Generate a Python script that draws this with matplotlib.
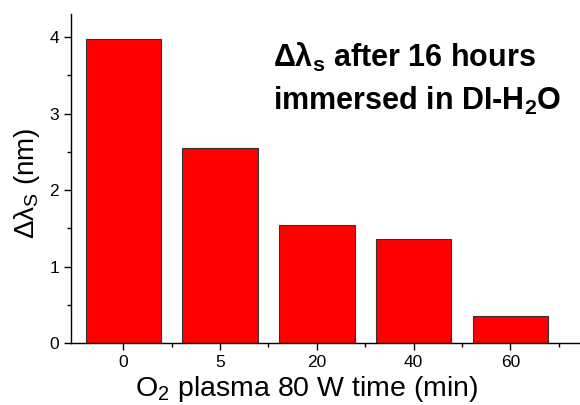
import matplotlib
matplotlib.use("Agg")
import matplotlib.pyplot as plt
from matplotlib.ticker import MultipleLocator

plt.rcParams["font.family"] = ["Liberation Sans", "DejaVu Sans"]
plt.rcParams["mathtext.fontset"] = "custom"
plt.rcParams["mathtext.rm"] = "Liberation Sans"
plt.rcParams["mathtext.bf"] = "Liberation Sans:bold"

times = ["0", "5", "20", "40", "60"]
shift = [3.98, 2.55, 1.54, 1.36, 0.36]

fig = plt.figure(figsize=(5.8, 4.05), dpi=100)
ax = fig.add_axes([0.1224, 0.153, 0.8776, 0.812])

pos = range(len(times))
ax.bar(pos, shift, width=0.78, color="#ff0000", edgecolor="#333333", linewidth=0.8)

ax.set_xlim(-0.54, 4.72)
ax.set_ylim(0, 4.3)
ax.set_xticks(list(pos))
ax.set_xticklabels(times)
ax.set_xticks([p + 0.5 for p in range(len(times))], minor=True)
ax.yaxis.set_major_locator(MultipleLocator(1))
ax.yaxis.set_minor_locator(MultipleLocator(0.5))
ax.tick_params(which="major", direction="out", length=5, width=1, labelsize=12.5)
ax.tick_params(which="minor", direction="out", length=3, width=1)

for s in ["top", "right"]:
    ax.spines[s].set_visible(False)
for s in ["left", "bottom"]:
    ax.spines[s].set_linewidth(1)

ax.set_xlabel("O$_\\mathregular{2}$ plasma 80 W time (min)", fontsize=20.5, labelpad=3)
ax.xaxis.label.set_x(0.464)
ax.set_ylabel("Δλ$_\\mathregular{S}$ (nm)", fontsize=20, labelpad=5)
ax.yaxis.label.set_y(0.486)

ax.text(0.397, 0.839, "Δλ$_\\mathbf{s}$ after 16 hours", transform=ax.transAxes,
        fontsize=22, fontweight="bold", va="baseline", ha="left")
ax.text(0.397, 0.708, "immersed in DI-H$_\\mathbf{2}$O", transform=ax.transAxes,
        fontsize=22, fontweight="bold", va="baseline", ha="left")

fig.savefig("out.png", dpi=100)
